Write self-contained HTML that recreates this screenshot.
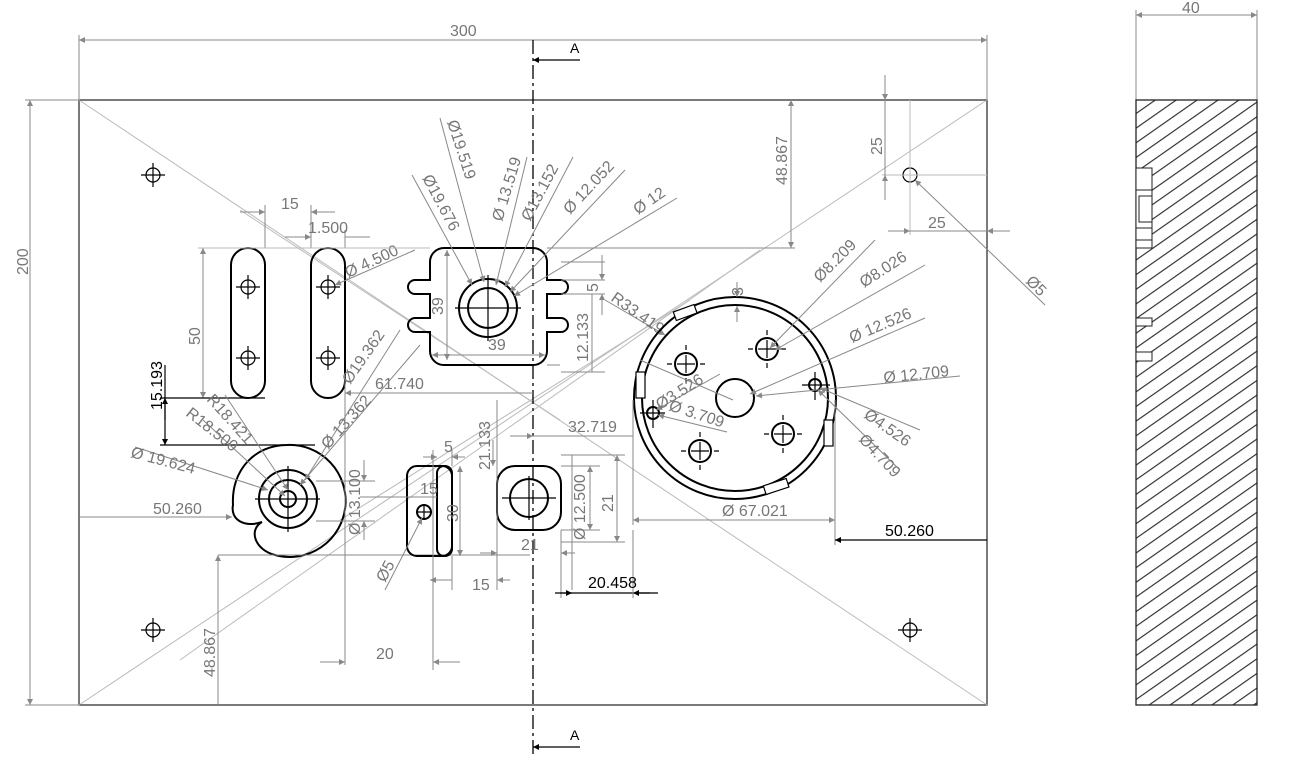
<!DOCTYPE html>
<html><head><meta charset="utf-8"><style>
html,body{margin:0;padding:0;background:#fff;}
svg{display:block;}
text{font-family:"Liberation Sans",sans-serif;font-size:16px;fill:#777;}
.d{stroke:#888;stroke-width:1;fill:none;}
.t{stroke:#bbb;stroke-width:1;fill:none;}
.k{stroke:#000;stroke-width:2;fill:none;}
.k1{stroke:#000;stroke-width:1.2;fill:none;}
.dk{stroke:#000;stroke-width:1.2;fill:none;}
</style></head><body>
<svg width="1306" height="768" viewBox="0 0 1306 768" xmlns="http://www.w3.org/2000/svg">
<defs>
<marker id="a" viewBox="0 0 10 10" refX="10" refY="5" markerWidth="12" markerHeight="6" orient="auto-start-reverse" markerUnits="userSpaceOnUse"><path d="M0,0L10,5L0,10z" fill="#888"/></marker>
<marker id="b" viewBox="0 0 10 10" refX="10" refY="5" markerWidth="12" markerHeight="6" orient="auto-start-reverse" markerUnits="userSpaceOnUse"><path d="M0,0L10,5L0,10z" fill="#000"/></marker>
<pattern id="h" patternUnits="userSpaceOnUse" width="16" height="12" patternTransform="rotate(-35)"><line x1="0" y1="0.6" x2="16" y2="0.6" stroke="#222" stroke-width="1.1"/></pattern>
<g id="x"><circle r="7" class="k1"/><line x1="-12" y1="0" x2="12" y2="0" class="k1"/><line x1="0" y1="-12" x2="0" y2="12" class="k1"/></g>
<g id="hx"><circle r="11" class="k"/><path d="M-19,0h5M-9,0h18M14,0h5M0,-19v5M0,-9v18M0,14v5" class="k1"/></g>
</defs>

<rect x="79" y="100" width="908" height="605" fill="none" stroke="#222" stroke-width="1.2"/>
<line x1="79" y1="100" x2="987" y2="705" class="t"/>
<line x1="987" y1="100" x2="79" y2="705" class="t"/>
<line x1="240" y1="210" x2="560" y2="420" class="t"/>
<line x1="340" y1="520" x2="690" y2="300" class="t"/>
<line x1="180" y1="660" x2="760" y2="250" class="t"/>

<path d="M79,35V100M987,35V100M25,100H79M25,705H79" class="d"/>
<line x1="79" y1="40" x2="987" y2="40" class="d" marker-start="url(#a)" marker-end="url(#a)"/>
<text x="450" y="36">300</text>
<line x1="30" y1="100" x2="30" y2="705" class="d" marker-start="url(#a)" marker-end="url(#a)"/>
<text transform="translate(28,275) rotate(-90)">200</text>

<line x1="533" y1="40" x2="533" y2="758" stroke="#000" stroke-width="1.3" stroke-dasharray="14,4,3,4"/>
<line x1="580" y1="60" x2="533" y2="60" class="dk" marker-end="url(#b)" stroke-width="2"/>
<text x="570" y="53" style="fill:#000;font-size:14px">A</text>
<line x1="580" y1="747" x2="533" y2="747" class="dk" marker-end="url(#b)" stroke-width="2"/>
<text x="570" y="740" style="fill:#000;font-size:14px">A</text>

<use href="#x" x="153" y="175"/><use href="#x" x="153" y="630"/><use href="#x" x="910" y="630"/>
<circle cx="910" cy="175" r="7" class="k1"/>
<path d="M882,175H987M910,100V235" class="t"/>
<line x1="885" y1="75" x2="885" y2="100" class="d" marker-end="url(#a)"/>
<line x1="885" y1="100" x2="885" y2="175" class="d"/>
<line x1="885" y1="200" x2="885" y2="175" class="d" marker-end="url(#a)"/>
<text transform="translate(882,155) rotate(-90)">25</text>
<path d="M888,231H1010" class="d"/>
<line x1="890" y1="231" x2="910" y2="231" class="d" marker-end="url(#a)"/>
<line x1="1008" y1="231" x2="987" y2="231" class="d" marker-end="url(#a)"/>
<text x="928" y="228">25</text>
<line x1="1045" y1="305" x2="915" y2="180" class="d" marker-end="url(#a)"/>
<text transform="translate(1025,282) rotate(45)">Ø5</text>
<line x1="791" y1="100" x2="791" y2="248" class="d" marker-start="url(#a)" marker-end="url(#a)"/>
<path d="M547,248H795" class="d"/>
<text transform="translate(787,185) rotate(-90)">48.867</text>

<rect x="231" y="248" width="34" height="150" rx="17" class="k"/>
<rect x="311" y="248" width="34" height="150" rx="17" class="k"/>
<use href="#x" x="248" y="287"/><use href="#x" x="248" y="358"/>
<use href="#x" x="328" y="287"/><use href="#x" x="328" y="358"/>
<path d="M265,205V248M311,205V248M345,230V248M311,230V248" class="d"/>
<line x1="240" y1="212" x2="265" y2="212" class="d" marker-end="url(#a)"/>
<line x1="335" y1="212" x2="311" y2="212" class="d" marker-end="url(#a)"/>
<text x="281" y="209">15</text>
<line x1="285" y1="237" x2="311" y2="237" class="d" marker-end="url(#a)"/>
<line x1="370" y1="237" x2="345" y2="237" class="d"/>
<text x="308" y="233">1.500</text>
<line x1="415" y1="250" x2="335" y2="285" class="d" marker-end="url(#a)"/>
<text transform="translate(348,278) rotate(-25)">Ø 4.500</text>
<path d="M198,248H430" class="t"/>
<line x1="203" y1="248" x2="203" y2="398" class="d" marker-start="url(#a)" marker-end="url(#a)"/>
<text transform="translate(200,345) rotate(-90)">50</text>
<path d="M160,398H265M160,445H315" class="dk"/>
<line x1="165" y1="365" x2="165" y2="445" class="dk" marker-end="url(#b)"/>
<line x1="165" y1="420" x2="165" y2="398" class="dk" marker-end="url(#b)"/>
<text transform="translate(162,410) rotate(-90)" style="fill:#000">15.193</text>
<line x1="345" y1="393" x2="533" y2="393" class="d" marker-start="url(#a)"/>
<text x="375" y="389">61.740</text>

<path d="M430,262a14,14 0 0 1 14,-14h89a14,14 0 0 1 14,14v18h14a7,7 0 0 1 0,14h-14v24h14a7,7 0 0 1 0,14h-14v19a14,14 0 0 1 -14,14h-89a14,14 0 0 1 -14,-14v-19h-15a7,7 0 0 1 0,-14h15v-24h-15a7,7 0 0 1 0,-14h15z" class="k"/>
<circle cx="488" cy="308" r="29" class="k"/>
<circle cx="488" cy="308" r="20" class="k" stroke-width="3"/>
<path d="M455,308H521M488,275V341" class="k1" stroke-width="0.8"/>
<g class="d">
<line x1="440" y1="118" x2="484" y2="282" marker-end="url(#a)"/>
<line x1="412" y1="175" x2="472" y2="285" marker-end="url(#a)"/>
<line x1="527" y1="157" x2="496" y2="285" marker-end="url(#a)"/>
<line x1="573" y1="157" x2="505" y2="287" marker-end="url(#a)"/>
<line x1="625" y1="170" x2="510" y2="292" marker-end="url(#a)"/>
<line x1="677" y1="198" x2="514" y2="296" marker-end="url(#a)"/>
</g>
<text transform="translate(447,122) rotate(72)">Ø19.519</text>
<text transform="translate(422,178) rotate(62)">Ø19.676</text>
<text transform="translate(502,222) rotate(-73)">Ø 13.519</text>
<text transform="translate(530,222) rotate(-62)">Ø13.152</text>
<text transform="translate(570,215) rotate(-47)">Ø 12.052</text>
<text transform="translate(638,215) rotate(-35)">Ø 12</text>
<line x1="447" y1="250" x2="447" y2="360" class="d" marker-start="url(#a)" marker-end="url(#a)"/>
<text transform="translate(443,315) rotate(-90)">39</text>
<line x1="432" y1="355" x2="545" y2="355" class="d" marker-start="url(#a)" marker-end="url(#a)"/>
<text x="488" y="350">39</text>
<path d="M561,262H605M561,280H605M561,294H605M561,372H605M547,365H560" class="d"/>
<line x1="602" y1="255" x2="602" y2="280" class="d" marker-end="url(#a)"/>
<line x1="602" y1="315" x2="602" y2="294" class="d" marker-end="url(#a)"/>
<text transform="translate(598,292) rotate(-90)">5</text>
<line x1="592" y1="294" x2="592" y2="372" class="d"/>
<text transform="translate(588,362) rotate(-90)">12.133</text>
<line x1="605" y1="300" x2="665" y2="335" class="d" marker-end="url(#a)"/>
<text transform="translate(610,300) rotate(35)">R33.419</text>

<circle cx="735" cy="398" r="101" class="k"/>
<circle cx="735" cy="398" r="93" class="k"/>
<g stroke="#000" stroke-width="1.2" fill="#fff">
<rect x="674" y="308" width="22" height="9" transform="rotate(-20 685 312)"/>
<rect x="636" y="372" width="9" height="26"/>
<rect x="824" y="420" width="9" height="26"/>
<rect x="764" y="482" width="24" height="9" transform="rotate(-18 776 486)"/>
</g>
<circle cx="735" cy="398" r="19" class="k"/>
<use href="#hx" x="686" y="364"/><use href="#hx" x="767" y="349"/>
<use href="#hx" x="700" y="451"/><use href="#hx" x="783" y="434"/>
<circle cx="653" cy="413" r="6" class="k"/><path d="M640,413H665M653,400V428" class="k1"/>
<circle cx="815" cy="385" r="6" class="k"/><path d="M802,385H830M815,372V400" class="k1"/>
<line x1="737" y1="282" x2="737" y2="297" class="d" marker-end="url(#a)"/>
<line x1="737" y1="322" x2="737" y2="306" class="d" marker-end="url(#a)"/>
<text transform="translate(743,296) rotate(-90)">3</text>
<g class="d">
<line x1="875" y1="240" x2="770" y2="348" marker-end="url(#a)"/>
<line x1="925" y1="265" x2="775" y2="350" marker-end="url(#a)"/>
<line x1="925" y1="318" x2="750" y2="394" marker-end="url(#a)"/>
<line x1="960" y1="376" x2="756" y2="396" marker-end="url(#a)"/>
<line x1="920" y1="430" x2="820" y2="388" marker-end="url(#a)"/>
<line x1="900" y1="470" x2="818" y2="390" marker-end="url(#a)"/>
<line x1="720" y1="374" x2="656" y2="410" marker-end="url(#a)"/>
<line x1="727" y1="432" x2="658" y2="415" marker-end="url(#a)"/>
<line x1="733" y1="400" x2="640" y2="360"/>
</g>
<text transform="translate(820,283) rotate(-45)">Ø8.209</text>
<text transform="translate(864,288) rotate(-33)">Ø8.026</text>
<text transform="translate(852,343) rotate(-23)">Ø 12.526</text>
<text transform="translate(884,383) rotate(-6)">Ø 12.709</text>
<text transform="translate(863,417) rotate(35)">Ø4.526</text>
<text transform="translate(858,440) rotate(47)">Ø4.709</text>
<text transform="translate(660,410) rotate(-32)">Ø3.526</text>
<text transform="translate(668,410) rotate(18)">Ø 3.709</text>
<path d="M633,400V525M835,400V545" class="d"/>
<line x1="633" y1="520" x2="835" y2="520" class="d" marker-start="url(#a)" marker-end="url(#a)"/>
<text x="722" y="516">Ø 67.021</text>
<line x1="987" y1="540" x2="835" y2="540" class="dk" marker-end="url(#b)"/>
<text x="885" y="536" style="fill:#000">50.260</text>

<path d="M287,445A56,56 0 1 1 275,555C255,550 248,530 262,522C245,528 230,520 233,505C231,470 255,445 287,445Z" class="k"/>
<circle cx="288" cy="499" r="29" class="k"/>
<circle cx="288" cy="499" r="19" class="k"/>
<circle cx="288" cy="499" r="8" class="k"/>
<path d="M255,499H320M288,466V532" class="k1" stroke-width="0.8"/>
<g class="d">
<line x1="203" y1="420" x2="285" y2="496" marker-end="url(#a)"/>
<line x1="225" y1="395" x2="288" y2="490" marker-end="url(#a)"/>
<line x1="135" y1="447" x2="268" y2="490" marker-end="url(#a)"/>
<line x1="400" y1="330" x2="305" y2="480" marker-end="url(#a)"/>
<line x1="420" y1="345" x2="300" y2="485" marker-end="url(#a)"/>
</g>
<text transform="translate(206,400) rotate(48)">R18.421</text>
<text transform="translate(185,415) rotate(38)">R18.500</text>
<text transform="translate(130,457) rotate(15)">Ø 19.624</text>
<text transform="translate(350,385) rotate(-55)">Ø19.362</text>
<text transform="translate(328,450) rotate(-48)">Ø 13.362</text>
<line x1="79" y1="517" x2="232" y2="517" class="d" marker-end="url(#a)"/>
<text x="153" y="514">50.260</text>
<path d="M316,481H375M316,521H375" class="d"/>
<line x1="364" y1="460" x2="364" y2="481" class="d" marker-end="url(#a)"/>
<line x1="364" y1="540" x2="364" y2="521" class="d" marker-end="url(#a)"/>
<text transform="translate(360,535) rotate(-90)">Ø 13.100</text>
<path d="M345,375V665M218,555H530" class="d"/>
<line x1="218" y1="705" x2="218" y2="555" class="d" marker-end="url(#a)"/>
<text transform="translate(215,677) rotate(-90)">48.867</text>
<line x1="320" y1="662" x2="345" y2="662" class="d" marker-end="url(#a)"/>
<line x1="460" y1="662" x2="433" y2="662" class="d" marker-end="url(#a)"/>
<text x="376" y="659">20</text>

<rect x="407" y="466" width="45" height="90" rx="10" class="k"/>
<rect x="437" y="466" width="15" height="90" rx="7" class="k"/>
<circle cx="424" cy="512" r="7" class="k"/><path d="M416,512H432M424,504V520" class="k1"/>
<path d="M433,450V670M452,450V466M452,590V556" class="d"/>
<line x1="423" y1="457" x2="437" y2="457" class="d" marker-end="url(#a)"/>
<line x1="465" y1="457" x2="452" y2="457" class="d" marker-end="url(#a)"/>
<text x="444" y="452">5</text>
<line x1="360" y1="497" x2="437" y2="497" class="d"/>
<text x="420" y="494">15</text>
<line x1="460" y1="466" x2="460" y2="556" class="d" marker-start="url(#a)" marker-end="url(#a)"/>
<text transform="translate(458,522) rotate(-90)">30</text>
<line x1="385" y1="590" x2="422" y2="518" class="d" marker-end="url(#a)"/>
<text transform="translate(385,583) rotate(-62)">Ø5</text>
<line x1="430" y1="580" x2="452" y2="580" class="d" marker-start="url(#a)"/>
<line x1="510" y1="580" x2="497" y2="580" class="d" marker-end="url(#a)"/>
<text x="472" y="590">15</text>

<rect x="497" y="466" width="64" height="64" rx="18" class="k"/>
<circle cx="529" cy="498" r="19" class="k"/>
<path d="M502,498H556M529,476V520" class="k1" stroke-width="0.8"/>
<path d="M497,400V590M561,530V598M561,466H600M561,530H600M561,455H625M561,542H625" class="d"/>
<line x1="493" y1="440" x2="493" y2="466" class="d" marker-end="url(#a)"/>
<text transform="translate(490,470) rotate(-90)">21.133</text>
<line x1="480" y1="553" x2="497" y2="553" class="d" marker-end="url(#a)"/>
<line x1="575" y1="553" x2="561" y2="553" class="d" marker-end="url(#a)"/>
<text x="521" y="550">21</text>
<line x1="590" y1="466" x2="590" y2="530" class="d" marker-start="url(#a)" marker-end="url(#a)"/>
<text transform="translate(585,540) rotate(-90)">Ø 12.500</text>
<line x1="617" y1="455" x2="617" y2="542" class="d" marker-start="url(#a)" marker-end="url(#a)"/>
<text transform="translate(613,512) rotate(-90)">21</text>
<line x1="510" y1="436" x2="533" y2="436" class="d" marker-end="url(#a)"/>
<line x1="533" y1="436" x2="633" y2="436" class="d"/>
<text x="568" y="432">32.719</text>
<path d="M572,590V455" class="d"/>
<line x1="555" y1="593" x2="658" y2="593" class="dk"/>
<line x1="560" y1="593" x2="572" y2="593" class="dk" marker-end="url(#b)"/>
<line x1="650" y1="593" x2="633" y2="593" class="dk" marker-end="url(#b)"/>
<path d="M633,530V598" class="d"/>
<text x="588" y="588" style="fill:#000">20.458</text>

<path d="M1136,10V100M1257,10V100" class="d"/>
<line x1="1136" y1="15" x2="1257" y2="15" class="d" marker-start="url(#a)" marker-end="url(#a)"/>
<text x="1182" y="13">40</text>
<rect x="1136" y="100" width="121" height="605" fill="url(#h)" stroke="#222" stroke-width="1.3"/>
<rect x="1136" y="168" width="16" height="80" fill="#fff" stroke="#222"/>
<path d="M1136,190H1152M1136,228H1152M1136,240H1152" stroke="#222" fill="none"/>
<rect x="1139" y="196" width="13" height="26" fill="#fff" stroke="#222"/>
<rect x="1136" y="318" width="16" height="8" fill="#fff" stroke="#222"/>
<rect x="1136" y="352" width="16" height="9" fill="#fff" stroke="#222"/>
</svg>
</body></html>
